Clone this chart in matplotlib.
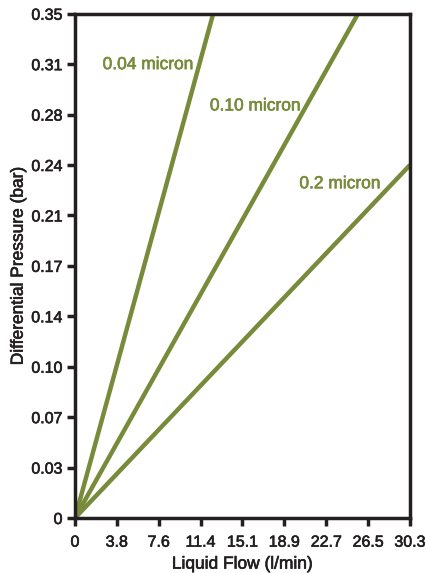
import matplotlib
matplotlib.use("Agg")
import matplotlib.pyplot as plt
import matplotlib.patheffects as pe

# flow (l/min) vs pressure (bar) for each membrane
flow_004 = [0, 12.5]
dp_004 = [0, 0.35]
flow_010 = [0, 25.6]
dp_010 = [0, 0.35]
flow_02 = [0, 30.3]
dp_02 = [0, 0.245]

x_ticks = [0, 3.7875, 7.575, 11.3625, 15.15, 18.9375, 22.725, 26.5125, 30.3]
x_labels = ["0", "3.8", "7.6", "11.4", "15.1", "18.9", "22.7", "26.5", "30.3"]
y_ticks = [0, 0.035, 0.07, 0.105, 0.14, 0.175, 0.21, 0.245, 0.28, 0.315, 0.35]
y_labels = ["0", "0.03", "0.07", "0.10", "0.14", "0.17", "0.21", "0.24", "0.28", "0.31", "0.35"]

green = "#778b3b"
dark = "#231f20"
fam = ["Liberation Sans", "DejaVu Sans"]

# a thin outline makes the text look a little heavier, like the original
def heavy(c):
    return [pe.withStroke(linewidth=0.45, foreground=c)]

fig = plt.figure(figsize=(4.27, 5.73), dpi=100)
ax = fig.add_axes([0.1756, 0.096, 0.7845, 0.880])

ax.plot(flow_004, dp_004, color=green, lw=3.2, solid_capstyle="butt")
ax.plot(flow_010, dp_010, color=green, lw=3.2, solid_capstyle="butt")
ax.plot(flow_02, dp_02, color=green, lw=3.2, solid_capstyle="butt")

ax.text(2.5, 0.3147, "0.04 micron", color=green, fontsize=12.5, family=fam, va="center", path_effects=heavy(green))
ax.text(12.2, 0.286, "0.10 micron", color=green, fontsize=12.5, family=fam, va="center", path_effects=heavy(green))
ax.text(20.3, 0.232, "0.2 micron", color=green, fontsize=12.5, family=fam, va="center", path_effects=heavy(green))

ax.set_xlim(0, 30.3)
ax.set_ylim(0, 0.35)
ax.set_xticks(x_ticks)
ax.set_xticklabels(x_labels, family=fam, fontsize=11.5, path_effects=heavy(dark))
ax.set_yticks(y_ticks)
ax.set_yticklabels(y_labels, family=fam, fontsize=11.5, path_effects=heavy(dark))

for s in ax.spines.values():
    s.set_linewidth(2.5)
    s.set_color(dark)
ax.tick_params(length=6, width=2.5, color=dark, labelcolor=dark, pad=3)
ax.tick_params(axis="x", pad=6)

ax.set_xlabel("Liquid Flow (l/min)", family=fam, fontsize=12.5, color=dark, labelpad=5, path_effects=heavy(dark))
ax.set_ylabel("Differential Pressure (bar)", family=fam, fontsize=12.5, color=dark, labelpad=4, path_effects=heavy(dark))

fig.savefig("out.png", dpi=100)
